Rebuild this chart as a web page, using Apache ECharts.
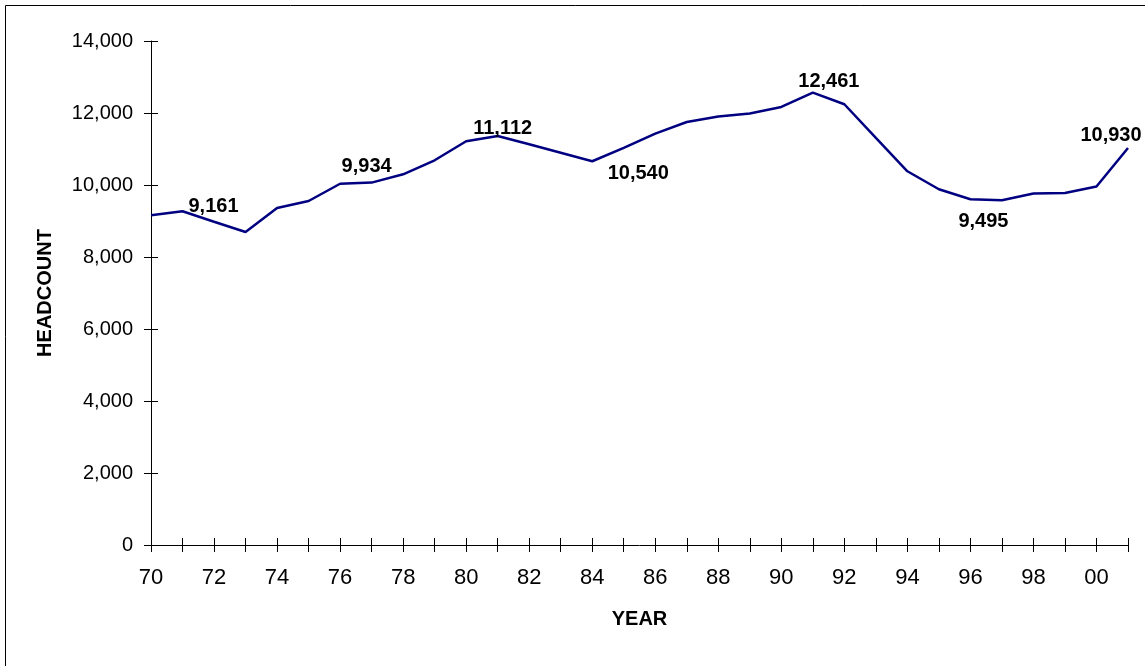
<!DOCTYPE html>
<html>
<head>
<meta charset="utf-8">
<script src="https://cdn.jsdelivr.net/npm/echarts@6/dist/echarts.min.js"></script>
<style>
html,body{margin:0;padding:0;background:#fff;}
#chart{width:1145px;height:666px;}
</style>
</head>
<body>
<div id="chart"></div>
<script>
// ---- data ----
const years = ['70','71','72','73','74','75','76','77','78','79','80','81','82','83','84','85','86','87','88','89','90','91','92','93','94','95','96','97','98','99','00','01'];
const headcount = [9160,9270,8980,8695,9362,9556,10035,10067,10298,10687,11215,11362,11130,10895,10659,11029,11429,11751,11905,11984,12168,12568,12243,11307,10381,9881,9603,9576,9762,9779,9956,11029];
const labelYears = ['71','77','81','84','91','96','01'];
const labelTexts = ['9,161','9,934','11,112','10,540','12,461','9,495','10,930'];
const yTicks = [0,2000,4000,6000,8000,10000,12000,14000];

// ---- label placement (style) ----
const labelOffsets = {
  '71':[31,-5], '77':[-5,-16], '81':[5,-7], '84':[46,12],
  '91':[16,-11], '96':[13,22], '01':[-17,-12]
};

const FONT = 'Liberation Sans, Arial, sans-serif';

const seriesData = headcount.map((v,i)=>{
  const li = labelYears.indexOf(years[i]);
  if (li < 0) return v;
  return {
    value: v,
    label: {
      show: true,
      formatter: labelTexts[li],
      position: 'inside',
      offset: labelOffsets[years[i]],
      color: '#000',
      fontWeight: 'bold',
      fontSize: 20,
      fontFamily: FONT
    }
  };
});

const chart = echarts.init(document.getElementById('chart'));
chart.setOption({
  animation: false,
  backgroundColor: '#fff',
  graphic: [{
    type: 'rect',
    shape: {x: 5.5, y: 5.5, width: 1200, height: 700},
    style: {fill: 'none', stroke: '#000', lineWidth: 1},
    silent: true
  }],
  grid: {left: 151, right: 17, top: 41, bottom: 121, containLabel: false},
  xAxis: [{
    type: 'category',
    data: years,
    boundaryGap: false,
    position: 'bottom',
    name: 'YEAR',
    nameLocation: 'middle',
    nameGap: 64,
    nameTextStyle: {fontWeight: 'bold', fontSize: 20, color: '#000', fontFamily: FONT},
    axisLine: {show: true, lineStyle: {color: '#000', width: 1}},
    axisTick: {show: true, interval: 0, length: 7, lineStyle: {color: '#000'}},
    axisLabel: {interval: 1, color: '#000', fontSize: 22, margin: 22, fontFamily: FONT},
    splitLine: {show: false}
  },{
    type: 'category',
    data: years,
    boundaryGap: false,
    position: 'bottom',
    axisLine: {show: false},
    axisTick: {show: true, inside: true, interval: 0, length: 7, lineStyle: {color: '#000'}},
    axisLabel: {show: false},
    splitLine: {show: false}
  }],
  yAxis: [{
    type: 'value',
    min: yTicks[0],
    max: yTicks[yTicks.length-1],
    interval: 2000,
    name: 'HEADCOUNT',
    nameLocation: 'middle',
    nameRotate: 90,
    nameGap: 96,
    nameTextStyle: {fontWeight: 'bold', fontSize: 20, color: '#000', fontFamily: FONT},
    axisLine: {show: true, lineStyle: {color: '#000', width: 1}},
    axisTick: {show: true, length: 7, lineStyle: {color: '#000'}},
    axisLabel: {color: '#000', fontSize: 20, margin: 18, fontFamily: FONT,
      formatter: v => v.toLocaleString('en-US')},
    splitLine: {show: false}
  },{
    type: 'value',
    min: yTicks[0],
    max: yTicks[yTicks.length-1],
    interval: 2000,
    position: 'left',
    axisLine: {show: false},
    axisTick: {show: true, inside: true, length: 7, lineStyle: {color: '#000'}},
    axisLabel: {show: false},
    splitLine: {show: false}
  }],
  series: [{
    type: 'line',
    data: seriesData,
    xAxisIndex: 0,
    yAxisIndex: 0,
    symbol: 'circle',
    symbolSize: 0.01,
    showSymbol: true,
    itemStyle: {color: 'rgba(0,0,0,0)'},
    lineStyle: {color: '#000080', width: 2.5},
    emphasis: {disabled: true},
    z: 5
  }]
});
</script>
</body>
</html>
